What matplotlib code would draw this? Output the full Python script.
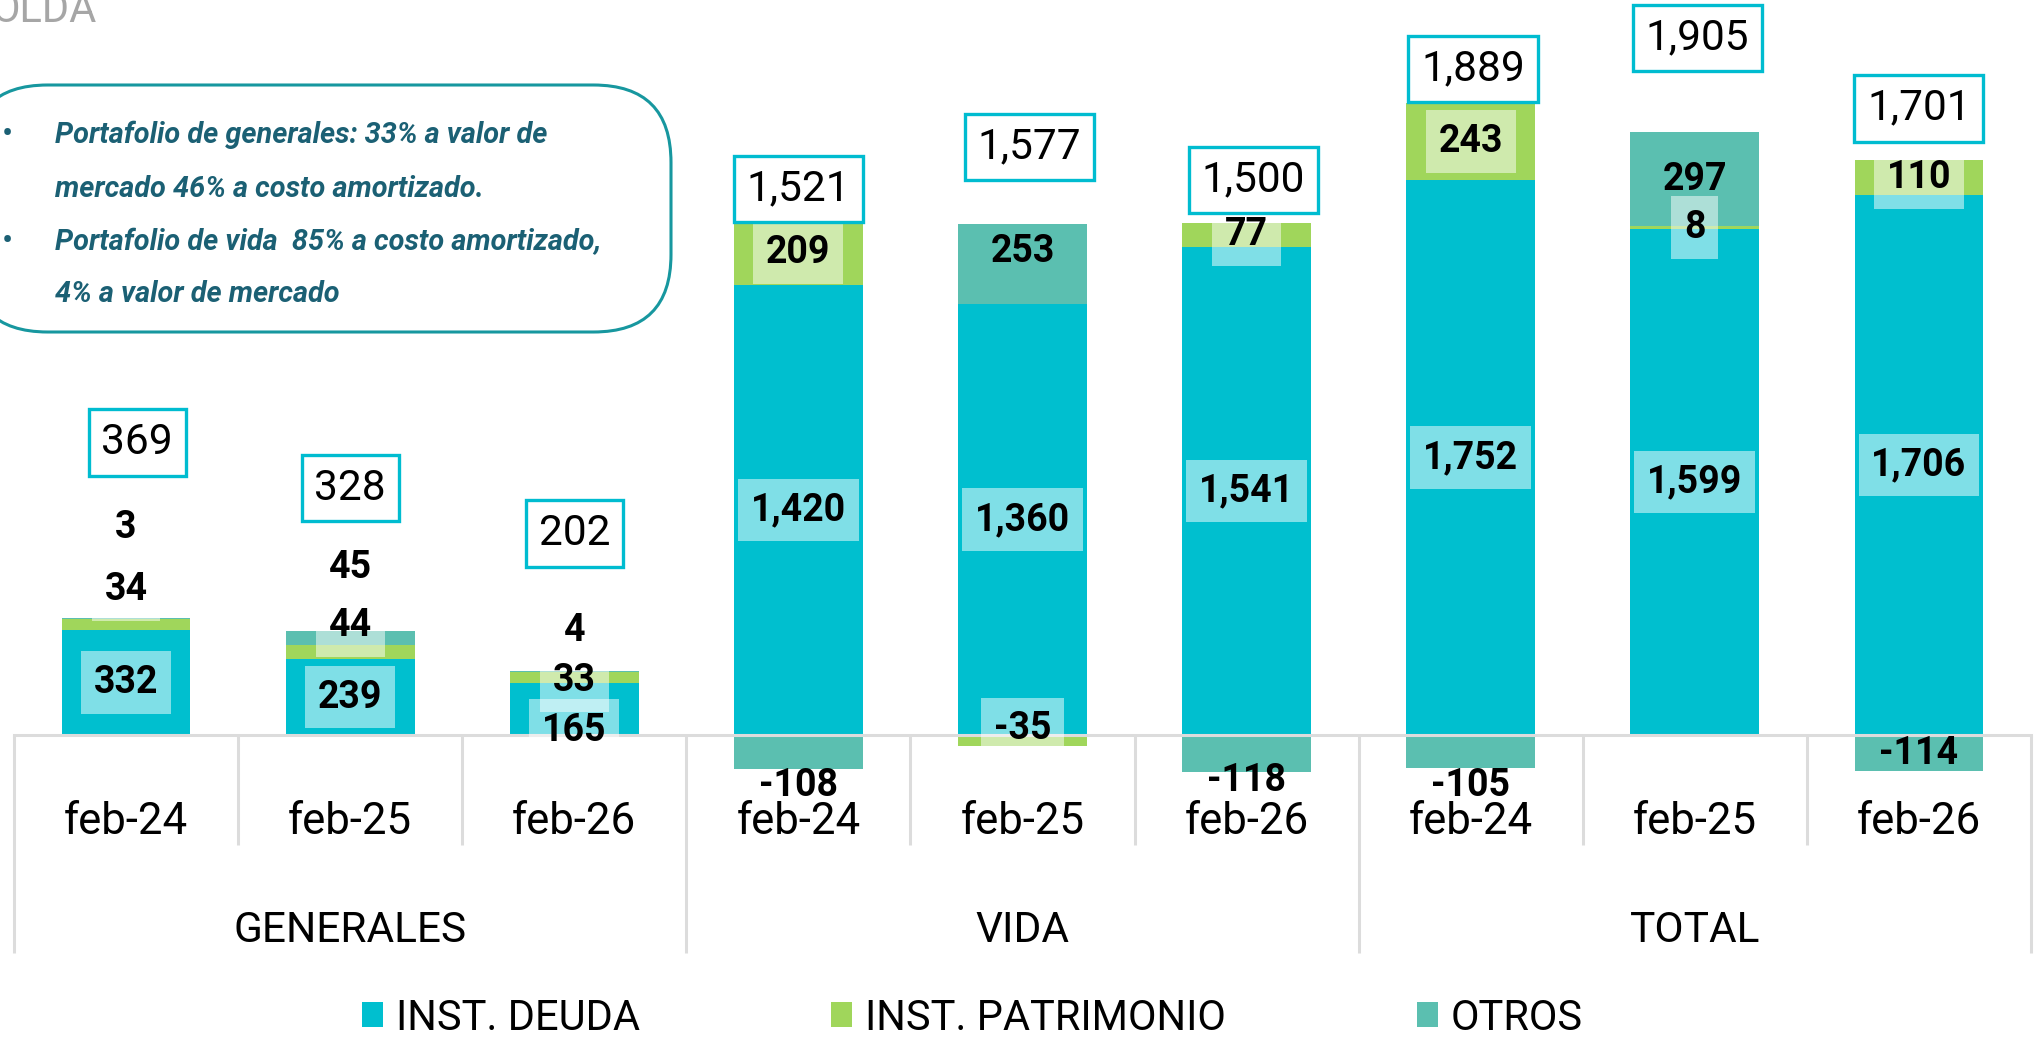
import matplotlib.pyplot as plt
from matplotlib.patches import FancyBboxPatch, Patch

plt.rcParams['font.family'] = ['Roboto', 'DejaVu Sans']

# data (millones)
groups = ['GENERALES', 'VIDA', 'TOTAL']
periods = ['feb-24', 'feb-25', 'feb-26']
deuda = [332, 239, 165, 1420, 1360, 1541, 1752, 1599, 1706]
patrimonio = [34, 44, 33, 209, -35, 77, 243, 8, 110]
otros = [3, 45, 4, -108, 253, -118, -105, 297, -114]
totales = [369, 328, 202, 1521, 1577, 1500, 1889, 1905, 1701]
series_names = ['INST. DEUDA', 'INST. PATRIMONIO', 'OTROS']

notes = [
    'Portafolio de generales: 33% a valor de',
    'mercado 46% a costo amortizado.',
    'Portafolio de vida  85% a costo amortizado,',
    '4% a valor de mercado',
]

# styling
C_DEUDA = '#00BFCF'
C_PATR = '#A0D65B'
C_OTROS = '#5BBFB0'
C_BOX = '#00BCD0'
C_GRID = '#DCDCDC'
C_NOTE = '#1B6074'
colors = [C_DEUDA, C_PATR, C_OTROS]

# manual label placement (where the original moved labels off the segment)
label_y = {
    (1, 0): 460, (2, 0): 657,
    (1, 1): 345, (2, 1): 530,
    (0, 2): 16, (1, 2): 172, (2, 2): 329,
    (2, 3): -160, (1, 4): 20, (2, 4): 1528,
    (2, 5): -144, (2, 6): -160,
}
box_lift = [555, 452, 435, 204, 279, 253, 214, 296, 278]
box_dx = [0.05, 0.0, 0.0, 0.0, 0.03, 0.03, 0.01, 0.01, 0.0]

W, H = 2039, 1041
fig = plt.figure(figsize=(W / 100, H / 100), dpi=100)
ax_h = 782.6
ax = fig.add_axes([14 / W, 1 - ax_h / H, 2017 / W, ax_h / H])
ax.set_xlim(-0.5, 8.5)
ax.set_ylim(-150, 2321)
ax.axis('off')

n = len(deuda)
x = list(range(n))
pos_base = [0.0] * n
neg_base = [0.0] * n
all_series = [deuda, patrimonio, otros]
bottoms = []
for vals in all_series:
    b = []
    for i, v in enumerate(vals):
        if v >= 0:
            b.append(pos_base[i])
            pos_base[i] += v
        else:
            b.append(neg_base[i])
            neg_base[i] += v
    bottoms.append(b)

bar_w = 0.575
for s, vals in enumerate(all_series):
    ax.bar(x, vals, bottom=bottoms[s], width=bar_w, color=colors[s],
           edgecolor='none', zorder=2, label=series_names[s])

# segment labels
for s, vals in enumerate(all_series):
    for i, v in enumerate(vals):
        y = label_y.get((s, i), bottoms[s][i] + v / 2)
        kw = {}
        if s < 2:
            kw['bbox'] = dict(boxstyle='square,pad=0.34', facecolor='white',
                              alpha=0.5, edgecolor='none')
        ax.text(i, y, f'{v:,}', ha='center', va='center', fontsize=27,
                fontweight='bold', color='black', zorder=5, **kw)

# total boxes
for i, t in enumerate(totales):
    ax.text(i + box_dx[i], t + box_lift[i], f'{t:,}', ha='center', va='center',
            fontsize=30.5, color='black', zorder=6,
            bbox=dict(boxstyle='square,pad=0.3', facecolor='white',
                      edgecolor=C_BOX, linewidth=2.4))

# category axis
ax.plot([-0.5, 8.5], [0, 0], color=C_GRID, lw=2.2, zorder=4, clip_on=False)
for k in range(n + 1):
    xs = k - 0.5
    y_end = -688 if k % 3 == 0 else -347
    ax.plot([xs, xs], [0, y_end], color=C_GRID, lw=2.2, zorder=1,
            clip_on=False, solid_capstyle='butt')

for i in x:
    ax.text(i, -312, periods[i % 3], ha='center', va='baseline',
            fontsize=31.5, color='black', clip_on=False)
for g, name in enumerate(groups):
    ax.text(3 * g + 1, -652, name, ha='center', va='baseline',
            fontsize=30.5, color='black', clip_on=False)

# cut-off header at the top left
fig.text(-0.004, 1 - 22 / H, 'OLDA', ha='left', va='baseline',
         fontsize=30, color='#A6A6A6')

# note box
note_box = FancyBboxPatch((-30 / W, 1 - 332 / H), (671 + 30) / W, (332 - 85) / H,
                          boxstyle='round,pad=0,rounding_size=0.038',
                          transform=fig.transFigure, facecolor='white',
                          edgecolor='#17979F', linewidth=2.2, zorder=3,
                          mutation_aspect=W / H)
fig.patches.append(note_box)
line_y = [104, 145, 186, 226]
for j, txt in enumerate(notes):
    yy = 1 - line_y[j] * 1.3004 / H
    if j in (0, 2):
        fig.text(2 / W, yy, '•', ha='left', va='center', fontsize=24,
                 color=C_NOTE)
    fig.text(55 / W, yy, txt, ha='left', va='center', fontsize=20.8,
             fontweight='bold', fontstyle='italic', color=C_NOTE)

# legend
handles = [Patch(facecolor=c, edgecolor='none') for c in colors]
fig.legend(handles, series_names, loc='center', ncol=3,
           bbox_to_anchor=(0.477, 0.022), frameon=False, fontsize=30,
           handlelength=0.5, handleheight=0.55, handletextpad=0.3,
           columnspacing=4.6, borderpad=0.1)

fig.savefig('out.png', dpi=100, facecolor='white')
